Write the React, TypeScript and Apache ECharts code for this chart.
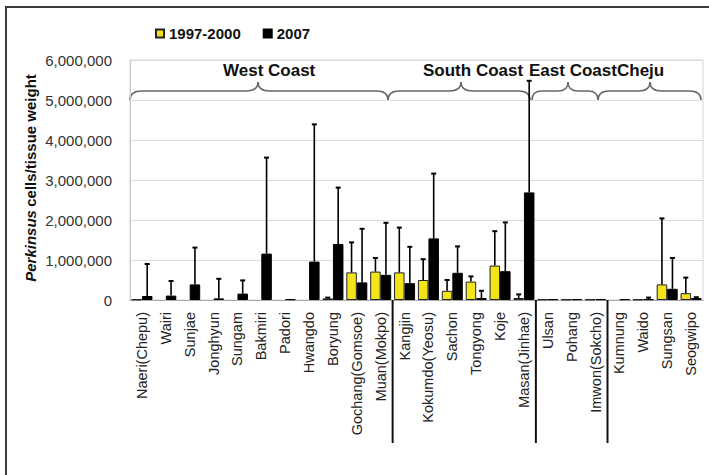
import React, { useEffect, useRef } from 'react';
import * as echarts from 'echarts';

const categories = [
  'Naeri(Chepu)', 'Wairi', 'Sunjae', 'Jonghyun', 'Sungam', 'Bakmiri', 'Padori', 'Hwangdo',
  'Boryung', 'Gochang(Gomsoe)', 'Muan(Mokpo)',
  'Kangjin', 'Kokumdo(Yeosu)', 'Sachon', 'Tongyong', 'Koje', 'Masan(Jinhae)',
  'Ulsan', 'Pohang', 'Imwon(Sokcho)',
  'Kumnung', 'Waido', 'Sungsan', 'Seogwipo',
];

const series1997Name = '1997-2000';
const series2007Name = '2007';

const mean1997 = [
  15000, 0, 0, 0, 0, 0, 0, 0, 40000, 690000, 710000,
  690000, 500000, 230000, 460000, 860000, 50000,
  15000, 15000, 15000,
  0, 15000, 390000, 170000,
];
const sd1997 = [
  0, 0, 0, 0, 0, 0, 0, 0, 20000, 750000, 340000,
  1120000, 520000, 270000, 130000, 860000, 90000,
  0, 0, 0,
  0, 0, 1650000, 390000,
];
const mean2007 = [
  100000, 110000, 390000, 40000, 160000, 1160000, 20000, 960000, 1400000, 440000, 630000,
  420000, 1540000, 680000, 50000, 720000, 2690000,
  20000, 20000, 20000,
  20000, 20000, 280000, 50000,
];
const sd2007 = [
  800000, 365000, 920000, 490000, 330000, 2400000, 0, 3430000, 1410000, 1340000, 1300000,
  910000, 1620000, 660000, 180000, 1220000, 2790000,
  0, 0, 0,
  0, 40000, 770000, 20000,
];

const yMin = 0;
const yMax = 6000000;
const yInterval = 1000000;

const groupNames = ['West Coast', 'South Coast', 'East Coast', 'Cheju'];
const groupStarts = [0, 11, 17, 20];

const BAR_CATEGORY_GAP = 0.12;
const FONT = 'Liberation Sans, Arial, sans-serif';

export default function App() {
  const ref = useRef<HTMLDivElement>(null);

  useEffect(() => {
    if (!ref.current) return;
    const chart = echarts.init(ref.current, null, { renderer: 'svg' });

    const errorRender = (side: number) => (params: any, api: any) => {
      const idx = api.value(0);
      const mean = api.value(1);
      const sd = api.value(2);
      if (!sd || sd <= 0) return null;
      const band = api.size([1, 0])[0];
      const barW = (band * (1 - BAR_CATEGORY_GAP)) / 2;
      const p0 = api.coord([idx, mean]);
      const p1 = api.coord([idx, mean + sd]);
      const x = p0[0] + side * barW / 2;
      return {
        type: 'group',
        children: [
          {
            type: 'line',
            shape: { x1: x, y1: p0[1], x2: x, y2: p1[1] },
            style: { stroke: '#000', lineWidth: 1.6 },
          },
          {
            type: 'line',
            shape: { x1: x - 2.5, y1: p1[1], x2: x + 2.5, y2: p1[1] },
            style: { stroke: '#000', lineWidth: 2 },
          },
        ],
      };
    };

    const toBar = (arr: number[]) => arr.map((v) => (v === 0 ? '-' : v));

    const option: any = {
      animation: false,
      backgroundColor: '#fff',
      legend: {
        data: [series1997Name, series2007Name],
        left: 150,
        top: 21,
        icon: 'rect',
        itemWidth: 8,
        itemHeight: 8,
        itemGap: 22,
        textStyle: { fontSize: 15, fontWeight: 'bold', color: '#111', fontFamily: FONT },
      },
      grid: {
        left: 130,
        right: 6,
        top: 60,
        bottom: 175,
        show: true,
        borderColor: '#d4d4d4',
        borderWidth: 1,
      },
      xAxis: {
        type: 'category',
        data: categories,
        axisLine: { lineStyle: { color: '#aaa', width: 1 } },
        axisTick: { show: false },
        axisLabel: {
          interval: 0,
          rotate: 90,
          margin: 12,
          fontSize: 14.5,
          color: '#222',
          fontFamily: FONT,
        },
      },
      yAxis: {
        type: 'value',
        min: yMin,
        max: yMax,
        interval: yInterval,
        axisLine: { show: true, lineStyle: { color: '#c8c8c8' } },
        axisTick: { show: false },
        splitLine: { lineStyle: { color: '#dcdcdc' } },
        axisLabel: {
          margin: 18,
          fontSize: 15,
          color: '#333',
          fontFamily: FONT,
          formatter: (v: number) => v.toLocaleString('en-US'),
        },
      },
      series: [
        {
          name: series1997Name,
          type: 'bar',
          data: toBar(mean1997),
          barGap: '0%',
          barCategoryGap: BAR_CATEGORY_GAP * 100 + '%',
          itemStyle: { color: '#f2e31a', borderColor: '#222', borderWidth: 1 },
        },
        {
          name: series2007Name,
          type: 'bar',
          data: toBar(mean2007),
          barGap: '0%',
          barCategoryGap: BAR_CATEGORY_GAP * 100 + '%',
          itemStyle: { color: '#000', borderColor: '#000', borderWidth: 1 },
        },
        {
          name: 'err1997',
          type: 'custom',
          renderItem: errorRender(-1),
          encode: { x: 0, y: 1 },
          data: mean1997.map((m, i) => [i, m, sd1997[i]]),
          z: 5,
        },
        {
          name: 'err2007',
          type: 'custom',
          renderItem: errorRender(1),
          encode: { x: 0, y: 1 },
          data: mean2007.map((m, i) => [i, m, sd2007[i]]),
          z: 5,
        },
      ],
    };
    chart.setOption(option);

    const braceStyle = { stroke: '#666', lineWidth: 1.5, fill: null };
    const yEnd = 100, yMid = 91, yTip = 82, r = 12;
    const braces = [
      { x1: 130, x2: 388, xt: 258, label: groupNames[0], lx: 223 },
      { x1: 388, x2: 530, xt: 461, label: groupNames[1], lx: 423 },
      { x1: 532, x2: 598, xt: 568, label: groupNames[2], lx: 529 },
      { x1: 598, x2: 701, xt: 650, label: groupNames[3], lx: 617 },
    ];
    const graphics: any[] = [];
    graphics.push({
      type: 'rect',
      shape: { x: 6, y: 7, width: 760, height: 520 },
      style: { stroke: '#3a3a3a', lineWidth: 2, fill: null },
      silent: true,
    });
    braces.forEach((b) => {
      const rr = Math.min(r, (b.xt - b.x1) / 3, (b.x2 - b.xt) / 3);
      graphics.push(
        { type: 'bezierCurve', shape: { x1: b.x1, y1: yEnd, cpx1: b.x1, cpy1: yMid, x2: b.x1 + rr, y2: yMid }, style: braceStyle },
        { type: 'line', shape: { x1: b.x1 + rr, y1: yMid, x2: b.xt - rr, y2: yMid }, style: braceStyle },
        { type: 'bezierCurve', shape: { x1: b.xt - rr, y1: yMid, cpx1: b.xt, cpy1: yMid, x2: b.xt, y2: yTip }, style: braceStyle },
        { type: 'bezierCurve', shape: { x1: b.xt, y1: yTip, cpx1: b.xt, cpy1: yMid, x2: b.xt + rr, y2: yMid }, style: braceStyle },
        { type: 'line', shape: { x1: b.xt + rr, y1: yMid, x2: b.x2 - rr, y2: yMid }, style: braceStyle },
        { type: 'bezierCurve', shape: { x1: b.x2 - rr, y1: yMid, cpx1: b.x2, cpy1: yMid, x2: b.x2, y2: yEnd }, style: braceStyle },
        {
          type: 'text',
          x: b.lx,
          y: 70,
          style: {
            text: b.label,
            fontSize: 17,
            fontWeight: 'bold',
            fill: '#111',
            align: 'left',
            verticalAlign: 'middle',
            fontFamily: FONT,
          },
          z: 10,
        }
      );
    });
    groupStarts.slice(1).forEach((gi) => {
      const a = chart.convertToPixel({ xAxisIndex: 0 }, gi - 1) as number;
      const c = chart.convertToPixel({ xAxisIndex: 0 }, gi) as number;
      const x = (a + c) / 2;
      graphics.push({
        type: 'line',
        shape: { x1: x, y1: 300, x2: x, y2: 443 },
        style: { stroke: '#111', lineWidth: 2 },
        z: 10,
      });
    });
    graphics.push({
      type: 'text',
      x: 30,
      y: 178,
      rotation: Math.PI / 2,
      style: {
        text: '{i|Perkinsus} {n|cells/tissue weight}',
        align: 'center',
        verticalAlign: 'middle',
        rich: {
          i: { fontSize: 15, fontWeight: 'bold', fontStyle: 'italic', fill: '#111', fontFamily: FONT },
          n: { fontSize: 15, fontWeight: 'bold', fill: '#111', fontFamily: FONT },
        },
      },
    });
    chart.setOption({ graphic: graphics });

    return () => chart.dispose();
  }, []);

  return (
    <div
      ref={ref}
      style={{ position: 'absolute', left: 0, top: 0, width: 709, height: 475, background: '#fff' }}
    />
  );
}
